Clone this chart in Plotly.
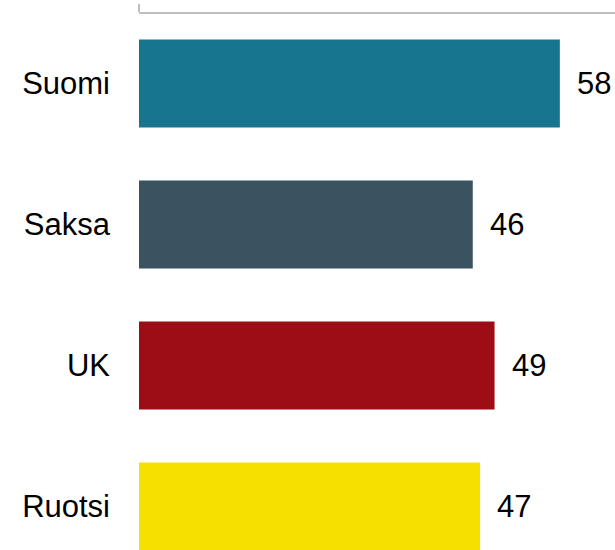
import plotly.graph_objects as go

countries = ["Suomi", "Saksa", "UK", "Ruotsi"]
values = [58, 46, 49, 47]
colors = ["#177590", "#3a5361", "#9c0d15", "#f5e000"]

FONT = "Liberation Sans, Arial, sans-serif"

fig = go.Figure(
    go.Bar(
        x=values,
        y=countries,
        orientation="h",
        marker=dict(color=colors, line=dict(width=0)),
        width=0.624,
        hoverinfo="skip",
    )
)

# value labels to the right of each bar
for c, v in zip(countries, values):
    fig.add_annotation(
        x=v, y=c, text=str(v), showarrow=False,
        xanchor="left", yanchor="middle", xshift=15,
        font=dict(family=FONT, size=31, color="#000000"),
    )

fig.update_layout(
    width=615,
    height=550,
    margin=dict(l=139, r=0, t=14, b=0),
    paper_bgcolor="white",
    plot_bgcolor="white",
    showlegend=False,
    font=dict(family=FONT, size=31, color="#000000"),
)

fig.update_xaxes(
    side="top",
    range=[0, 65.6],
    showgrid=False,
    zeroline=False,
    showline=True,
    linecolor="#c0c0c0",
    linewidth=2,
    ticks="outside",
    ticklen=8,
    tickwidth=2,
    tickcolor="#c0c0c0",
    tick0=0,
    dtick=100,
    showticklabels=False,
)

fig.update_yaxes(
    type="category",
    categoryorder="array",
    categoryarray=countries,
    range=[3.309, -0.493],
    showgrid=False,
    zeroline=False,
    showline=False,
    ticks="",
    ticklabelstandoff=28,
    tickfont=dict(size=31, color="#000000"),
)

fig.write_html("out.html")
